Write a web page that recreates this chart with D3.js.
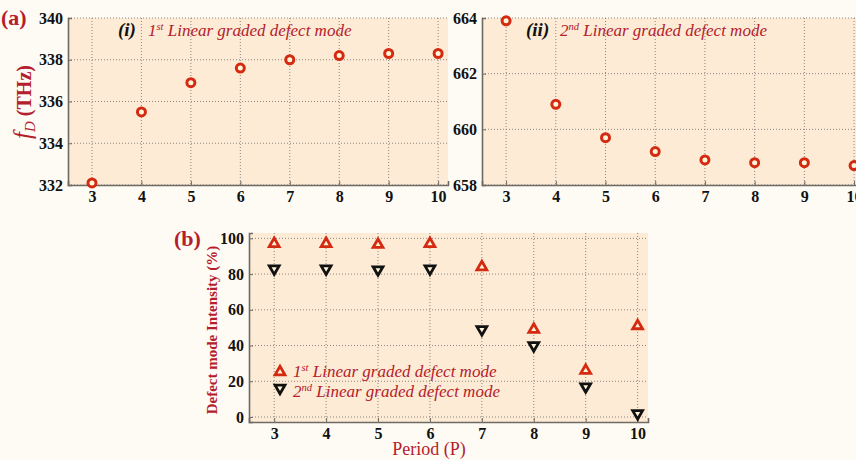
<!DOCTYPE html>
<html>
<head>
<meta charset="utf-8">
<script src="https://cdn.jsdelivr.net/npm/d3@7"></script>
<style>
  html, body { margin: 0; padding: 0; background: #fefbf5; }
  svg { display: block; }
  svg text { font-family: "Liberation Serif", "Times New Roman", Times, "DejaVu Serif", serif !important; }
</style>
</head>
<body>
<svg id="chart" width="856" height="460"></svg>
<script>
// Periods (number of cells on each side of the graded defect)
const periods = [3, 4, 5, 6, 7, 8, 9, 10];

// Defect mode frequencies f_D (THz)
const freqMode1 = [332.1, 335.5, 336.9, 337.6, 338.0, 338.2, 338.3, 338.3];
const freqMode2 = [663.9, 660.9, 659.7, 659.2, 658.9, 658.8, 658.8, 658.7];

// Defect mode transmission intensity (%)
const intensityMode1 = [97, 97, 96.5, 97, 84, 49, 26, 51];
const intensityMode2 = [83, 83, 82.5, 83, 49, 40, 17, 2];

// Tick labels
const xTicks = [3, 4, 5, 6, 7, 8, 9, 10];
const yTicksMode1 = [332, 334, 336, 338, 340];
const yTicksMode2 = [658, 660, 662, 664];
const yTicksIntensity = [0, 20, 40, 60, 80, 100];

const RED = "#d42a12";
const LABEL_RED = "#b3202c";
const PLOT_BG = "#fdebd5";
const AXIS = "#6f6a64";
const GRID = "#8a8580";
const SERIF = '"Liberation Serif", "Times New Roman", Times, "DejaVu Serif", serif';

const svg = d3.select("#chart").attr("font-family", SERIF);

function panel(cfg) {
  const g = svg.append("g");
  const x = d3.scaleLinear().domain(cfg.xDomain).range([cfg.left, cfg.right]);
  const y = d3.scaleLinear().domain(cfg.yDomain).range([cfg.bottom, cfg.top]);

  g.append("rect")
    .attr("x", cfg.left).attr("y", cfg.top)
    .attr("width", cfg.right - cfg.left).attr("height", cfg.bottom - cfg.top)
    .attr("fill", PLOT_BG);

  // dotted grid
  g.append("g").selectAll("line").data(cfg.xTicks).join("line")
    .attr("x1", d => x(d)).attr("x2", d => x(d))
    .attr("y1", cfg.top).attr("y2", cfg.bottom)
    .attr("stroke", GRID).attr("stroke-width", 1).attr("stroke-dasharray", "1,2");
  g.append("g").selectAll("line").data(cfg.yTicks).join("line")
    .attr("x1", cfg.left).attr("x2", cfg.right)
    .attr("y1", d => y(d)).attr("y2", d => y(d))
    .attr("stroke", GRID).attr("stroke-width", 1).attr("stroke-dasharray", "1,2");

  // axes
  const fmt = d3.format("d");
  const xAxis = d3.axisBottom(x).tickValues(cfg.xTicks).tickFormat(fmt).tickSize(-4).tickPadding(cfg.xPad);
  const yAxis = d3.axisLeft(y).tickValues(cfg.yTicks).tickFormat(fmt).tickSize(-4).tickPadding(cfg.yPad);
  const gx = g.append("g").attr("transform", `translate(0,${cfg.bottom})`).call(xAxis);
  const gy = g.append("g").attr("transform", `translate(${cfg.left},0)`).call(yAxis);
  [gx, gy].forEach(a => {
    a.attr("font-family", SERIF).attr("font-size", cfg.tickFont);
    a.select(".domain").attr("stroke", AXIS).attr("stroke-width", 1.6);
    a.selectAll(".tick line").attr("stroke", AXIS).attr("stroke-width", 1);
    a.selectAll(".tick text")
      .attr("fill", "#111").attr("font-weight", "bold");
  });
  return { g, x, y };
}

function superLabel(parent, xPos, yPos, prefix, sup, rest, size) {
  const t = parent.append("text")
    .attr("x", xPos).attr("y", yPos)
    .attr("fill", LABEL_RED).attr("font-style", "italic")
    .attr("font-size", size);
  t.append("tspan").text(prefix);
  t.append("tspan").attr("font-size", size * 0.62).attr("dy", -size * 0.38).text(sup);
  t.append("tspan").attr("dy", size * 0.38).text(" " + rest);
  return t;
}

function drawCircles(p, values) {
  p.g.append("g").selectAll("circle").data(periods).join("circle")
    .attr("cx", d => p.x(d))
    .attr("cy", (d, i) => p.y(values[i]))
    .attr("r", 4)
    .attr("fill", "#fff6d8")
    .attr("stroke", RED).attr("stroke-width", 3);
}

const xDomain = [2.515, 10.2];

// (a)(i) first defect mode frequency
const pA1 = panel({
  left: 68, right: 448, top: 18, bottom: 185,
  xDomain, yDomain: [332, 340], xTicks, yTicks: yTicksMode1,
  xPad: 6, yPad: 5, tickFont: 16
});
drawCircles(pA1, freqMode1);

// (a)(ii) second defect mode frequency
const pA2 = panel({
  left: 482, right: 864, top: 18, bottom: 185,
  xDomain, yDomain: [658, 664], xTicks, yTicks: yTicksMode2,
  xPad: 6, yPad: 5, tickFont: 16
});
drawCircles(pA2, freqMode2);

// (b) defect mode intensity
const pB = panel({
  left: 249, right: 648, top: 233, bottom: 422,
  xDomain, yDomain: [-2.8, 103], xTicks, yTicks: yTicksIntensity,
  xPad: 6, yPad: 5, tickFont: 16
});

const tri = d3.symbol().type(d3.symbolTriangle).size(42);

pB.g.append("g").selectAll("path").data(periods).join("path")
  .attr("d", tri())
  .attr("transform", (d, i) => `translate(${pB.x(d)},${pB.y(intensityMode1[i])})`)
  .attr("fill", "#fff6d8").attr("stroke", RED).attr("stroke-width", 2.8);

pB.g.append("g").selectAll("path").data(periods).join("path")
  .attr("d", tri())
  .attr("transform", (d, i) => `translate(${pB.x(d)},${pB.y(intensityMode2[i])}) rotate(180)`)
  .attr("fill", "#fff6d8").attr("stroke", "#111").attr("stroke-width", 2.8);

// Panel titles
const titles = svg.append("g");
titles.append("text").attr("x", 118).attr("y", 36)
  .attr("font-size", 19).attr("font-weight", "bold").attr("font-style", "italic")
  .attr("fill", "#111").text("(i)");
superLabel(titles, 148, 36, "1", "st", "Linear graded defect mode", 17);

titles.append("text").attr("x", 526).attr("y", 36)
  .attr("font-size", 19).attr("font-weight", "bold").attr("font-style", "italic")
  .attr("fill", "#111").text("(ii)");
superLabel(titles, 560, 36, "2", "nd", "Linear graded defect mode", 17);

// Panel letters
svg.append("text").attr("x", 1).attr("y", 25)
  .attr("font-size", 22).attr("font-weight", "bold").attr("fill", LABEL_RED).text("(a)");
svg.append("text").attr("x", 174).attr("y", 246)
  .attr("font-size", 22).attr("font-weight", "bold").attr("fill", LABEL_RED).text("(b)");

// Axis titles
const fdLabel = svg.append("text")
  .attr("transform", "translate(31,102) rotate(-90)")
  .attr("text-anchor", "middle").attr("fill", LABEL_RED).attr("font-size", 20);
fdLabel.append("tspan").attr("font-style", "italic").attr("font-size", 25).text("f");
fdLabel.append("tspan").attr("font-style", "italic").attr("font-size", 15).attr("dy", 4).text("D");
fdLabel.append("tspan").attr("font-weight", "bold").attr("dy", -4).text(" (THz)");

svg.append("text")
  .attr("transform", "translate(217,330) rotate(-90)")
  .attr("text-anchor", "middle").attr("fill", LABEL_RED)
  .attr("font-size", 15).attr("font-weight", "bold")
  .text("Defect mode Intensity (%)");

svg.append("text")
  .attr("x", 429).attr("y", 455)
  .attr("text-anchor", "middle").attr("fill", LABEL_RED)
  .attr("font-size", 18).text("Period (P)");

// Legend for (b)
const legend = svg.append("g");
legend.append("path").attr("d", tri())
  .attr("transform", "translate(280,372)")
  .attr("fill", "#fff6d8").attr("stroke", RED).attr("stroke-width", 2.8);
legend.append("path").attr("d", tri())
  .attr("transform", "translate(280,388) rotate(180)")
  .attr("fill", "#fff6d8").attr("stroke", "#111").attr("stroke-width", 2.8);
superLabel(legend, 293, 377, "1", "st", "Linear graded defect mode", 17);
superLabel(legend, 293, 397, "2", "nd", "Linear graded defect mode", 17);
</script>
</body>
</html>
